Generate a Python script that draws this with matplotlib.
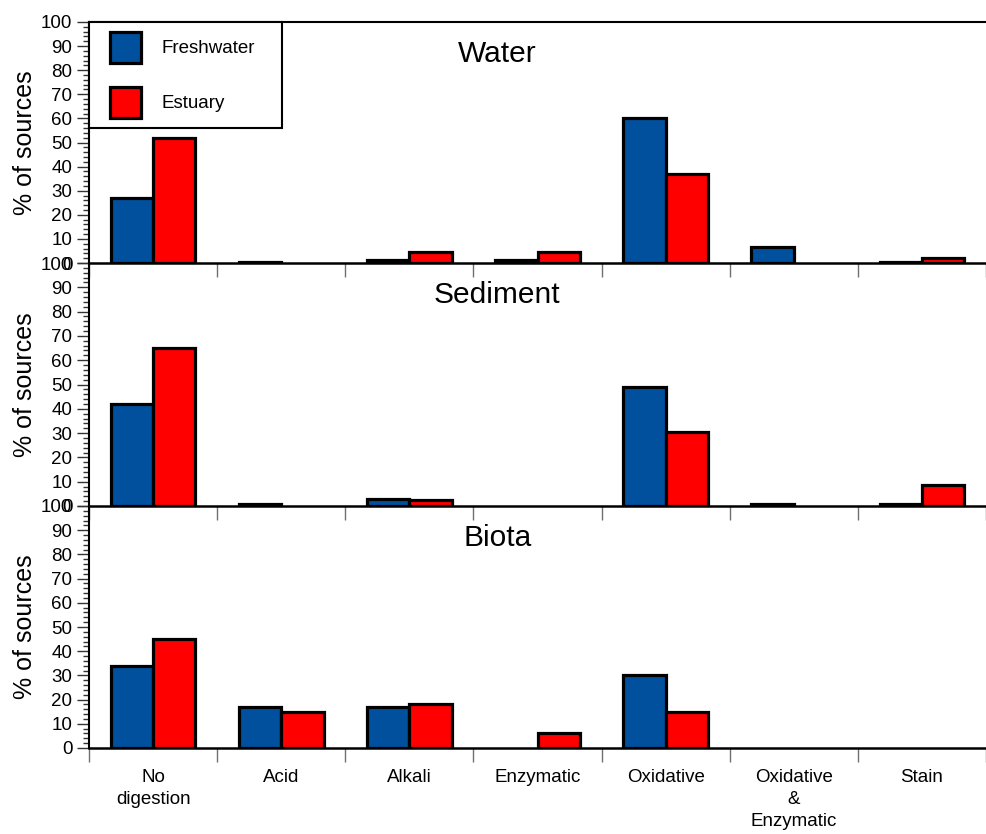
import matplotlib
matplotlib.use('Agg')
import matplotlib.pyplot as plt
import numpy as np
from matplotlib.patches import Rectangle
from matplotlib.legend_handler import HandlerPatch
from matplotlib.ticker import MultipleLocator

plt.rcParams['font.family'] = ['Liberation Sans', 'DejaVu Sans']

# ---------------- data ----------------
categories = ['No\ndigestion', 'Acid', 'Alkali', 'Enzymatic', 'Oxidative',
              'Oxidative\n&\nEnzymatic', 'Stain']
panels = ['Water', 'Sediment', 'Biota']
series = ['Freshwater', 'Estuary']
water_fresh = [27, 0.5, 1.2, 1.2, 60, 6.5, 0.5]
water_estuary = [52, 0, 4.5, 4.5, 37, 0, 2]
sediment_fresh = [42, 1, 3, 0, 49, 1, 1]
sediment_estuary = [65, 0, 2.5, 0, 30.5, 0, 8.7]
biota_fresh = [34, 17, 17, 0, 30, 0, 0]
biota_estuary = [45, 15, 18, 6, 15, 0, 0]
y_ticks = list(range(0, 101, 10))
y_ticklabels = [str(v) for v in y_ticks]

panel_data = [(water_fresh, water_estuary),
              (sediment_fresh, sediment_estuary),
              (biota_fresh, biota_estuary)]

# ---------------- style ----------------
BLUE = '#00509E'
RED = '#FF0000'
W, H = 986, 834
DPI = 100
fig = plt.figure(figsize=(W / DPI, H / DPI), dpi=DPI)

ax_left_px = 89
cat_px = 129.7
tops = [22, 263, 506]
bottoms = [263, 506, 748]
bw = 0.33


def visible(values):
    # zero-valued bars are not drawn (no outline on the baseline)
    v = np.asarray(values, dtype=float)
    return np.where(v > 0, v, np.nan)


x = np.arange(len(categories))
axes = []
for i, (name, (fresh, est)) in enumerate(zip(panels, panel_data)):
    top, bot = tops[i], bottoms[i]
    ax = fig.add_axes([ax_left_px / W, (H - bot) / H,
                       (W - ax_left_px) / W, (bot - top) / H])
    ax.patch.set_visible(False)
    b1 = ax.bar(x - bw, visible(fresh), width=bw, align='edge', color=BLUE,
                edgecolor='black', linewidth=2.3, label=series[0])
    b2 = ax.bar(x, visible(est), width=bw, align='edge', color=RED,
                edgecolor='black', linewidth=2.3, label=series[1])
    ax.set_xlim(-0.5, -0.5 + (W - ax_left_px) / cat_px)
    ax.set_ylim(0, 100)

    # spines
    ax.spines['right'].set_visible(False)
    ax.spines['top'].set_visible(i == 0)
    ax.spines['top'].set_linewidth(1.5)
    ax.spines['left'].set_linewidth(1.5)
    ax.spines['bottom'].set_linewidth(1.8)

    # y ticks
    ax.set_yticks(y_ticks)
    ax.set_yticklabels(y_ticklabels)
    ax.yaxis.set_minor_locator(MultipleLocator(2))
    ax.tick_params(axis='y', which='major', length=8.6, width=1.0,
                   color='#333333', labelsize=13.5, pad=3.4)
    ax.tick_params(axis='y', which='minor', length=4.3, width=1.0,
                   color='#333333')

    # x ticks: labels at centers, tick marks at boundaries
    ax.set_xticks(x)
    if i == 2:
        ax.set_xticklabels(categories)
        for lab in ax.get_xticklabels():
            lab.set_linespacing(1.4)
    else:
        ax.set_xticklabels([])
    ax.set_xticks(np.arange(-0.5, len(categories) + 0.5, 1), minor=True)
    ax.tick_params(axis='x', which='major', length=0, labelsize=13.5, pad=15)
    ax.tick_params(axis='x', which='minor', length=10, width=1.0,
                   color='#707070')

    ax.set_ylabel('% of sources', fontsize=18)
    ax.yaxis.set_label_coords(-0.058, 0.5)

    ax.text(0.455, 1 - 40 / 242, name, transform=ax.transAxes,
            ha='center', va='baseline', fontsize=21.5)

    if i == 0:
        off_pt = 11 * 72 / DPI
        sq_pt = 31 * 72 / DPI

        def square(legend, orig_handle, xdescent, ydescent, width, height,
                   fontsize):
            y0 = -ydescent + (height - sq_pt) / 2
            return Rectangle((-xdescent + off_pt, y0), sq_pt, sq_pt)

        leg = ax.legend(handles=[b1.patches[0], b2.patches[0]], labels=series,
                        loc='upper left',
                        bbox_to_anchor=(0, 0, 193 / (W - ax_left_px), 1),
                        mode='expand', borderaxespad=0, fontsize=13.5,
                        handlelength=2.24, handleheight=2.165,
                        handletextpad=1.12, labelspacing=1.27,
                        borderpad=0.53, fancybox=False, framealpha=1,
                        edgecolor='black',
                        handler_map={Rectangle: HandlerPatch(patch_func=square)})
        leg.get_frame().set_linewidth(1.5)
    axes.append(ax)

fig.savefig('out.png', dpi=DPI)
